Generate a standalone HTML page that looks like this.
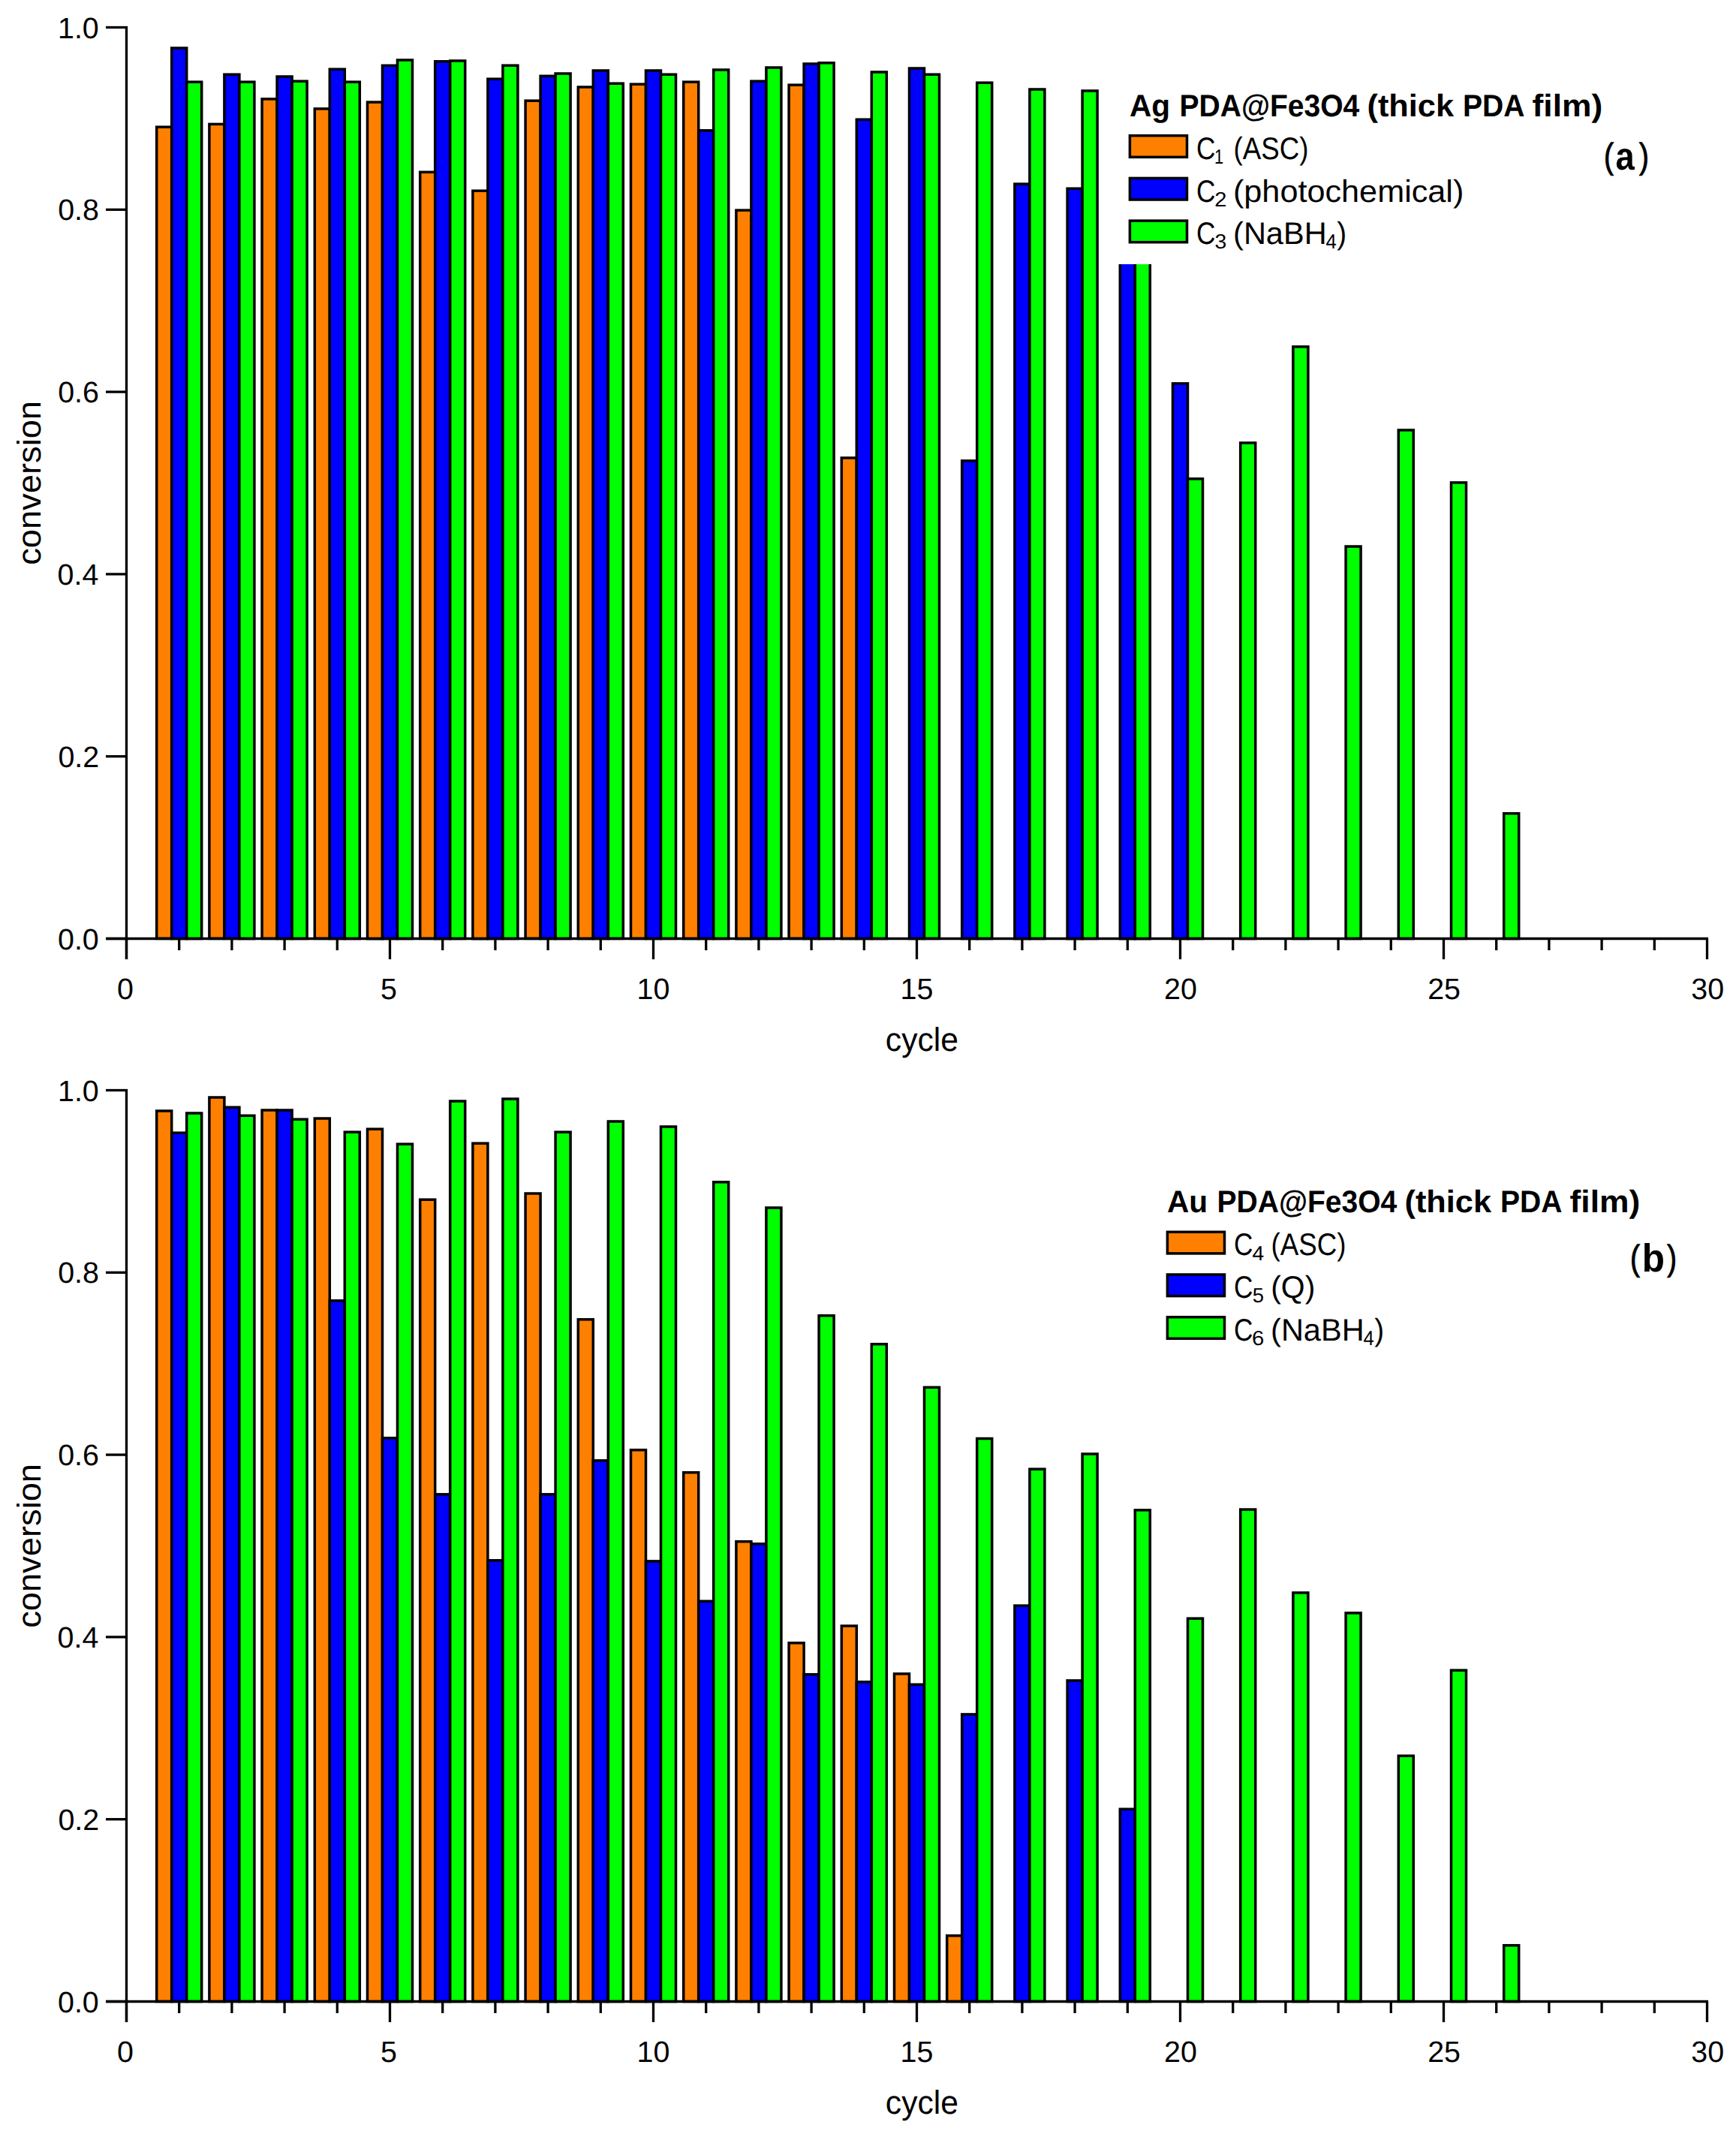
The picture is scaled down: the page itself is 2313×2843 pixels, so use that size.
<!DOCTYPE html>
<html><head><meta charset="utf-8"><title>conversion vs cycle</title>
<style>
html,body{margin:0;padding:0;background:#fff;}
svg{display:block}
text{font-family:"Liberation Sans",sans-serif;fill:#000;font-kerning:none;text-rendering:geometricPrecision}
.bars rect{stroke:#000;stroke-width:3.5}
.ax line{stroke:#000;stroke-width:3.3;stroke-linecap:butt}
</style></head><body>
<svg width="2313" height="2843" viewBox="0 0 2313 2843">
<rect width="2313" height="2843" fill="#fff"/>
<g class="bars">
<rect x="208.7" y="169.2" width="20" height="1081.2" fill="#ff8000"/>
<rect x="228.7" y="64.0" width="20" height="1186.5" fill="#0000ff"/>
<rect x="248.7" y="109.2" width="20" height="1141.3" fill="#00ff00"/>
<rect x="278.9" y="165.4" width="20" height="1085.0" fill="#ff8000"/>
<rect x="298.9" y="99.2" width="20" height="1151.2" fill="#0000ff"/>
<rect x="318.9" y="109.2" width="20" height="1141.3" fill="#00ff00"/>
<rect x="349.1" y="131.9" width="20" height="1118.5" fill="#ff8000"/>
<rect x="369.1" y="102.0" width="20" height="1148.5" fill="#0000ff"/>
<rect x="389.1" y="108.2" width="20" height="1142.3" fill="#00ff00"/>
<rect x="419.3" y="144.9" width="20" height="1105.5" fill="#ff8000"/>
<rect x="439.3" y="92.2" width="20" height="1158.3" fill="#0000ff"/>
<rect x="459.3" y="109.2" width="20" height="1141.3" fill="#00ff00"/>
<rect x="489.5" y="136.1" width="20" height="1114.5" fill="#ff8000"/>
<rect x="509.5" y="87.3" width="20" height="1163.2" fill="#0000ff"/>
<rect x="529.5" y="80.0" width="20" height="1170.5" fill="#00ff00"/>
<rect x="559.7" y="229.3" width="20" height="1021.1" fill="#ff8000"/>
<rect x="579.7" y="81.8" width="20" height="1168.8" fill="#0000ff"/>
<rect x="599.7" y="81.0" width="20" height="1169.5" fill="#00ff00"/>
<rect x="629.9" y="254.2" width="20" height="996.4" fill="#ff8000"/>
<rect x="649.9" y="105.2" width="20" height="1145.3" fill="#0000ff"/>
<rect x="669.9" y="87.2" width="20" height="1163.3" fill="#00ff00"/>
<rect x="700.1" y="134.2" width="20" height="1116.2" fill="#ff8000"/>
<rect x="720.1" y="101.3" width="20" height="1149.2" fill="#0000ff"/>
<rect x="740.1" y="98.0" width="20" height="1152.5" fill="#00ff00"/>
<rect x="770.3" y="116.0" width="20" height="1134.5" fill="#ff8000"/>
<rect x="790.3" y="94.0" width="20" height="1156.5" fill="#0000ff"/>
<rect x="810.3" y="111.2" width="20" height="1139.2" fill="#00ff00"/>
<rect x="840.5" y="112.2" width="20" height="1138.2" fill="#ff8000"/>
<rect x="860.5" y="94.0" width="20" height="1156.5" fill="#0000ff"/>
<rect x="880.5" y="99.2" width="20" height="1151.2" fill="#00ff00"/>
<rect x="910.7" y="109.2" width="20" height="1141.3" fill="#ff8000"/>
<rect x="930.7" y="173.8" width="20" height="1076.7" fill="#0000ff"/>
<rect x="950.7" y="93.0" width="20" height="1157.5" fill="#00ff00"/>
<rect x="980.9" y="280.1" width="20" height="970.5" fill="#ff8000"/>
<rect x="1000.9" y="108.2" width="20" height="1142.3" fill="#0000ff"/>
<rect x="1020.9" y="90.0" width="20" height="1160.5" fill="#00ff00"/>
<rect x="1051.1" y="113.2" width="20" height="1137.2" fill="#ff8000"/>
<rect x="1071.1" y="85.0" width="20" height="1165.5" fill="#0000ff"/>
<rect x="1091.1" y="83.8" width="20" height="1166.7" fill="#00ff00"/>
<rect x="1121.3" y="610.0" width="20" height="640.5" fill="#ff8000"/>
<rect x="1141.3" y="159.2" width="20" height="1091.3" fill="#0000ff"/>
<rect x="1161.3" y="96.0" width="20" height="1154.5" fill="#00ff00"/>
<rect x="1211.5" y="91.0" width="20" height="1159.5" fill="#0000ff"/>
<rect x="1231.5" y="99.2" width="20" height="1151.2" fill="#00ff00"/>
<rect x="1281.7" y="613.9" width="20" height="636.6" fill="#0000ff"/>
<rect x="1301.7" y="110.2" width="20" height="1140.3" fill="#00ff00"/>
<rect x="1351.9" y="245.1" width="20" height="1005.5" fill="#0000ff"/>
<rect x="1371.9" y="119.0" width="20" height="1131.5" fill="#00ff00"/>
<rect x="1422.1" y="251.2" width="20" height="999.4" fill="#0000ff"/>
<rect x="1442.1" y="121.0" width="20" height="1129.5" fill="#00ff00"/>
<rect x="1492.3" y="331.8" width="20" height="918.8" fill="#0000ff"/>
<rect x="1512.3" y="331.8" width="20" height="918.8" fill="#00ff00"/>
<rect x="1562.5" y="510.9" width="20" height="739.6" fill="#0000ff"/>
<rect x="1582.5" y="637.9" width="20" height="612.6" fill="#00ff00"/>
<rect x="1652.7" y="590.0" width="20" height="660.5" fill="#00ff00"/>
<rect x="1722.9" y="461.9" width="20" height="788.6" fill="#00ff00"/>
<rect x="1793.1" y="728.0" width="20" height="522.5" fill="#00ff00"/>
<rect x="1863.3" y="573.0" width="20" height="677.5" fill="#00ff00"/>
<rect x="1933.5" y="642.9" width="20" height="607.6" fill="#00ff00"/>
<rect x="2003.7" y="1083.7" width="20" height="166.8" fill="#00ff00"/>
</g>
<rect x="1486" y="112" width="670" height="240" fill="#fff"/>
<text><tspan x="1505.02" y="154.80" font-size="41.6" font-weight="bold" textLength="54.18" lengthAdjust="spacingAndGlyphs">Ag</tspan> <tspan x="1571.50" y="154.80" font-size="41.6" font-weight="bold" textLength="239.77" lengthAdjust="spacingAndGlyphs">PDA@Fe3O4</tspan> <tspan x="1821.54" y="154.80" font-size="41.6" font-weight="bold" textLength="115.48" lengthAdjust="spacingAndGlyphs">(thick</tspan> <tspan x="1949.00" y="154.80" font-size="41.6" font-weight="bold" textLength="82.47" lengthAdjust="spacingAndGlyphs">PDA</tspan> <tspan x="2041.56" y="154.80" font-size="41.6" font-weight="bold" textLength="93.70" lengthAdjust="spacingAndGlyphs">film)</tspan></text>
<rect x="1505.4" y="180.7" width="76.1" height="28.6" fill="#ff8000" stroke="#000" stroke-width="3.5"/>
<text><tspan x="1594.04" y="211.80" font-size="41.6" font-weight="normal" textLength="25.43" lengthAdjust="spacingAndGlyphs">C</tspan><tspan x="1618.01" y="218.00" font-size="27.4" font-weight="normal" textLength="12.19" lengthAdjust="spacingAndGlyphs">1</tspan> <tspan x="1643.47" y="211.80" font-size="41.6" font-weight="normal" textLength="100.01" lengthAdjust="spacingAndGlyphs">(ASC)</tspan></text>
<rect x="1505.4" y="237.4" width="76.1" height="28.6" fill="#0000ff" stroke="#000" stroke-width="3.5"/>
<text><tspan x="1594.04" y="268.50" font-size="41.6" font-weight="normal" textLength="25.43" lengthAdjust="spacingAndGlyphs">C</tspan><tspan x="1618.34" y="274.70" font-size="27.4" font-weight="normal" textLength="16.20" lengthAdjust="spacingAndGlyphs">2</tspan> <tspan x="1642.96" y="268.50" font-size="41.6" font-weight="normal" textLength="307.41" lengthAdjust="spacingAndGlyphs">(photochemical)</tspan></text>
<rect x="1505.4" y="294.1" width="76.1" height="28.6" fill="#00ff00" stroke="#000" stroke-width="3.5"/>
<text><tspan x="1594.04" y="325.20" font-size="41.6" font-weight="normal" textLength="25.43" lengthAdjust="spacingAndGlyphs">C</tspan><tspan x="1618.47" y="331.40" font-size="27.4" font-weight="normal" textLength="15.74" lengthAdjust="spacingAndGlyphs">3</tspan> <tspan x="1643.07" y="325.20" font-size="41.6" font-weight="normal" textLength="124.57" lengthAdjust="spacingAndGlyphs">(NaBH</tspan><tspan x="1766.50" y="331.40" font-size="27.4" font-weight="normal" textLength="14.25" lengthAdjust="spacingAndGlyphs">4</tspan><tspan x="1781.34" y="325.20" font-size="41.6" font-weight="normal" textLength="12.90" lengthAdjust="spacingAndGlyphs">)</tspan></text>
<text><tspan x="2136.95" y="224.10" font-size="47.2" font-weight="normal" stroke="#000" stroke-width="1.0" textLength="12.90" lengthAdjust="spacingAndGlyphs">(</tspan><tspan x="2152.54" y="225.90" font-size="52.2" font-weight="bold" textLength="25.24" lengthAdjust="spacingAndGlyphs">a</tspan><tspan x="2184.04" y="224.10" font-size="47.2" font-weight="normal" stroke="#000" stroke-width="1.0" textLength="12.90" lengthAdjust="spacingAndGlyphs">)</tspan></text>
<g class="ax">
<line x1="141" x2="170" y1="1250.5" y2="1250.5"/>
<line x1="141" x2="170" y1="1007.7" y2="1007.7"/>
<line x1="141" x2="170" y1="764.9" y2="764.9"/>
<line x1="141" x2="170" y1="522.1" y2="522.1"/>
<line x1="141" x2="170" y1="279.3" y2="279.3"/>
<line x1="141" x2="170" y1="36.5" y2="36.5"/>
<line x1="168.5" x2="168.5" y1="1250.5" y2="1278.0"/>
<line x1="238.7" x2="238.7" y1="1250.5" y2="1266.0"/>
<line x1="308.9" x2="308.9" y1="1250.5" y2="1266.0"/>
<line x1="379.1" x2="379.1" y1="1250.5" y2="1266.0"/>
<line x1="449.3" x2="449.3" y1="1250.5" y2="1266.0"/>
<line x1="519.5" x2="519.5" y1="1250.5" y2="1278.0"/>
<line x1="589.7" x2="589.7" y1="1250.5" y2="1266.0"/>
<line x1="659.9" x2="659.9" y1="1250.5" y2="1266.0"/>
<line x1="730.1" x2="730.1" y1="1250.5" y2="1266.0"/>
<line x1="800.3" x2="800.3" y1="1250.5" y2="1266.0"/>
<line x1="870.5" x2="870.5" y1="1250.5" y2="1278.0"/>
<line x1="940.7" x2="940.7" y1="1250.5" y2="1266.0"/>
<line x1="1010.9" x2="1010.9" y1="1250.5" y2="1266.0"/>
<line x1="1081.1" x2="1081.1" y1="1250.5" y2="1266.0"/>
<line x1="1151.3" x2="1151.3" y1="1250.5" y2="1266.0"/>
<line x1="1221.5" x2="1221.5" y1="1250.5" y2="1278.0"/>
<line x1="1291.7" x2="1291.7" y1="1250.5" y2="1266.0"/>
<line x1="1361.9" x2="1361.9" y1="1250.5" y2="1266.0"/>
<line x1="1432.1" x2="1432.1" y1="1250.5" y2="1266.0"/>
<line x1="1502.3" x2="1502.3" y1="1250.5" y2="1266.0"/>
<line x1="1572.5" x2="1572.5" y1="1250.5" y2="1278.0"/>
<line x1="1642.7" x2="1642.7" y1="1250.5" y2="1266.0"/>
<line x1="1712.9" x2="1712.9" y1="1250.5" y2="1266.0"/>
<line x1="1783.1" x2="1783.1" y1="1250.5" y2="1266.0"/>
<line x1="1853.3" x2="1853.3" y1="1250.5" y2="1266.0"/>
<line x1="1923.5" x2="1923.5" y1="1250.5" y2="1278.0"/>
<line x1="1993.7" x2="1993.7" y1="1250.5" y2="1266.0"/>
<line x1="2063.9" x2="2063.9" y1="1250.5" y2="1266.0"/>
<line x1="2134.1" x2="2134.1" y1="1250.5" y2="1266.0"/>
<line x1="2204.3" x2="2204.3" y1="1250.5" y2="1266.0"/>
<line x1="2274.5" x2="2274.5" y1="1250.5" y2="1278.0"/>
<line x1="168.5" x2="168.5" y1="35.0" y2="1278.0"/>
<line x1="141" x2="2276.0" y1="1250.5" y2="1250.5"/>
</g>
<text font-size="39.4" transform="translate(77.01,1264.50) scale(1.0000,1)">0.0</text>
<text font-size="39.4" transform="translate(77.40,1021.70) scale(1.0000,1)">0.2</text>
<text font-size="39.4" transform="translate(76.62,778.90) scale(1.0000,1)">0.4</text>
<text font-size="39.4" transform="translate(77.14,536.10) scale(1.0000,1)">0.6</text>
<text font-size="39.4" transform="translate(77.14,293.30) scale(1.0000,1)">0.8</text>
<text font-size="39.4" transform="translate(77.01,50.50) scale(1.0000,1)">1.0</text>
<text font-size="39.4" transform="translate(156.03,1331.00) scale(1.0000,1)">0</text>
<text font-size="39.4" transform="translate(507.10,1331.00) scale(1.0000,1)">5</text>
<text font-size="39.4" transform="translate(848.55,1331.00) scale(1.0000,1)">10</text>
<text font-size="39.4" transform="translate(1199.61,1331.00) scale(1.0000,1)">15</text>
<text font-size="39.4" transform="translate(1551.07,1331.00) scale(1.0000,1)">20</text>
<text font-size="39.4" transform="translate(1902.14,1331.00) scale(1.0000,1)">25</text>
<text font-size="39.4" transform="translate(2253.27,1331.00) scale(1.0000,1)">30</text>
<text font-size="44.1" transform="translate(54.10,752.86) rotate(-90) scale(1.0266,1)">conversion</text>
<text font-size="44.1" transform="translate(1179.85,1399.80) scale(0.9666,1)">cycle</text>
<g class="bars">
<rect x="208.7" y="1480.0" width="20" height="1186.5" fill="#ff8000"/>
<rect x="228.7" y="1509.2" width="20" height="1157.3" fill="#0000ff"/>
<rect x="248.7" y="1483.0" width="20" height="1183.5" fill="#00ff00"/>
<rect x="278.9" y="1462.0" width="20" height="1204.5" fill="#ff8000"/>
<rect x="298.9" y="1475.2" width="20" height="1191.2" fill="#0000ff"/>
<rect x="318.9" y="1486.3" width="20" height="1180.2" fill="#00ff00"/>
<rect x="349.1" y="1479.0" width="20" height="1187.5" fill="#ff8000"/>
<rect x="369.1" y="1479.0" width="20" height="1187.5" fill="#0000ff"/>
<rect x="389.1" y="1491.2" width="20" height="1175.3" fill="#00ff00"/>
<rect x="419.3" y="1490.0" width="20" height="1176.5" fill="#ff8000"/>
<rect x="439.3" y="1732.8" width="20" height="933.7" fill="#0000ff"/>
<rect x="459.3" y="1508.2" width="20" height="1158.3" fill="#00ff00"/>
<rect x="489.5" y="1504.2" width="20" height="1162.3" fill="#ff8000"/>
<rect x="509.5" y="1915.8" width="20" height="750.8" fill="#0000ff"/>
<rect x="529.5" y="1524.2" width="20" height="1142.3" fill="#00ff00"/>
<rect x="559.7" y="1598.2" width="20" height="1068.3" fill="#ff8000"/>
<rect x="579.7" y="1990.8" width="20" height="675.8" fill="#0000ff"/>
<rect x="599.7" y="1467.0" width="20" height="1199.5" fill="#00ff00"/>
<rect x="629.9" y="1523.2" width="20" height="1143.3" fill="#ff8000"/>
<rect x="649.9" y="2078.8" width="20" height="587.7" fill="#0000ff"/>
<rect x="669.9" y="1464.0" width="20" height="1202.5" fill="#00ff00"/>
<rect x="700.1" y="1590.0" width="20" height="1076.5" fill="#ff8000"/>
<rect x="720.1" y="1990.8" width="20" height="675.8" fill="#0000ff"/>
<rect x="740.1" y="1508.2" width="20" height="1158.3" fill="#00ff00"/>
<rect x="770.3" y="1757.8" width="20" height="908.8" fill="#ff8000"/>
<rect x="790.3" y="1945.8" width="20" height="720.8" fill="#0000ff"/>
<rect x="810.3" y="1494.0" width="20" height="1172.5" fill="#00ff00"/>
<rect x="840.5" y="1931.7" width="20" height="734.8" fill="#ff8000"/>
<rect x="860.5" y="2079.9" width="20" height="586.6" fill="#0000ff"/>
<rect x="880.5" y="1501.0" width="20" height="1165.5" fill="#00ff00"/>
<rect x="910.7" y="1961.7" width="20" height="704.8" fill="#ff8000"/>
<rect x="930.7" y="2133.2" width="20" height="533.3" fill="#0000ff"/>
<rect x="950.7" y="1574.8" width="20" height="1091.7" fill="#00ff00"/>
<rect x="980.9" y="2053.7" width="20" height="612.8" fill="#ff8000"/>
<rect x="1000.9" y="2056.8" width="20" height="609.7" fill="#0000ff"/>
<rect x="1020.9" y="1609.0" width="20" height="1057.5" fill="#00ff00"/>
<rect x="1051.1" y="2188.8" width="20" height="477.7" fill="#ff8000"/>
<rect x="1071.1" y="2230.7" width="20" height="435.8" fill="#0000ff"/>
<rect x="1091.1" y="1752.7" width="20" height="913.8" fill="#00ff00"/>
<rect x="1121.3" y="2166.1" width="20" height="500.4" fill="#ff8000"/>
<rect x="1141.3" y="2240.7" width="20" height="425.8" fill="#0000ff"/>
<rect x="1161.3" y="1790.7" width="20" height="875.8" fill="#00ff00"/>
<rect x="1191.5" y="2229.9" width="20" height="436.6" fill="#ff8000"/>
<rect x="1211.5" y="2244.2" width="20" height="422.3" fill="#0000ff"/>
<rect x="1231.5" y="1848.3" width="20" height="818.2" fill="#00ff00"/>
<rect x="1261.7" y="2578.8" width="20" height="87.7" fill="#ff8000"/>
<rect x="1281.7" y="2283.9" width="20" height="382.6" fill="#0000ff"/>
<rect x="1301.7" y="1916.5" width="20" height="750.0" fill="#00ff00"/>
<rect x="1351.9" y="2139.1" width="20" height="527.4" fill="#0000ff"/>
<rect x="1371.9" y="1957.2" width="20" height="709.2" fill="#00ff00"/>
<rect x="1422.1" y="2238.9" width="20" height="427.6" fill="#0000ff"/>
<rect x="1442.1" y="1937.0" width="20" height="729.5" fill="#00ff00"/>
<rect x="1492.3" y="2410.2" width="20" height="256.2" fill="#0000ff"/>
<rect x="1512.3" y="2011.8" width="20" height="654.7" fill="#00ff00"/>
<rect x="1582.5" y="2156.2" width="20" height="510.3" fill="#00ff00"/>
<rect x="1652.7" y="2011.0" width="20" height="655.5" fill="#00ff00"/>
<rect x="1722.9" y="2121.9" width="20" height="544.6" fill="#00ff00"/>
<rect x="1793.1" y="2148.9" width="20" height="517.6" fill="#00ff00"/>
<rect x="1863.3" y="2339.2" width="20" height="327.2" fill="#00ff00"/>
<rect x="1933.5" y="2225.2" width="20" height="441.3" fill="#00ff00"/>
<rect x="2003.7" y="2591.7" width="20" height="74.8" fill="#00ff00"/>
</g>
<text><tspan x="1555.02" y="1615.40" font-size="41.6" font-weight="bold" textLength="54.18" lengthAdjust="spacingAndGlyphs">Au</tspan> <tspan x="1621.50" y="1615.40" font-size="41.6" font-weight="bold" textLength="239.77" lengthAdjust="spacingAndGlyphs">PDA@Fe3O4</tspan> <tspan x="1871.54" y="1615.40" font-size="41.6" font-weight="bold" textLength="115.48" lengthAdjust="spacingAndGlyphs">(thick</tspan> <tspan x="1999.00" y="1615.40" font-size="41.6" font-weight="bold" textLength="82.47" lengthAdjust="spacingAndGlyphs">PDA</tspan> <tspan x="2091.56" y="1615.40" font-size="41.6" font-weight="bold" textLength="93.70" lengthAdjust="spacingAndGlyphs">film)</tspan></text>
<rect x="1555.4" y="1641.3" width="76.1" height="28.6" fill="#ff8000" stroke="#000" stroke-width="3.5"/>
<text><tspan x="1644.04" y="1672.40" font-size="41.6" font-weight="normal" textLength="25.43" lengthAdjust="spacingAndGlyphs">C</tspan><tspan x="1668.54" y="1678.60" font-size="27.4" font-weight="normal" textLength="15.69" lengthAdjust="spacingAndGlyphs">4</tspan> <tspan x="1693.47" y="1672.40" font-size="41.6" font-weight="normal" textLength="100.01" lengthAdjust="spacingAndGlyphs">(ASC)</tspan></text>
<rect x="1555.4" y="1698.0" width="76.1" height="28.6" fill="#0000ff" stroke="#000" stroke-width="3.5"/>
<text><tspan x="1644.04" y="1729.10" font-size="41.6" font-weight="normal" textLength="25.43" lengthAdjust="spacingAndGlyphs">C</tspan><tspan x="1668.70" y="1735.30" font-size="27.4" font-weight="normal" textLength="15.27" lengthAdjust="spacingAndGlyphs">5</tspan> <tspan x="1693.21" y="1729.10" font-size="41.6" font-weight="normal" textLength="59.11" lengthAdjust="spacingAndGlyphs">(Q)</tspan></text>
<rect x="1555.4" y="1754.7" width="76.1" height="28.6" fill="#00ff00" stroke="#000" stroke-width="3.5"/>
<text><tspan x="1644.04" y="1785.80" font-size="41.6" font-weight="normal" textLength="25.43" lengthAdjust="spacingAndGlyphs">C</tspan><tspan x="1668.13" y="1792.00" font-size="27.4" font-weight="normal" textLength="16.32" lengthAdjust="spacingAndGlyphs">6</tspan> <tspan x="1693.07" y="1785.80" font-size="41.6" font-weight="normal" textLength="124.57" lengthAdjust="spacingAndGlyphs">(NaBH</tspan><tspan x="1816.50" y="1792.00" font-size="27.4" font-weight="normal" textLength="14.25" lengthAdjust="spacingAndGlyphs">4</tspan><tspan x="1831.34" y="1785.80" font-size="41.6" font-weight="normal" textLength="12.90" lengthAdjust="spacingAndGlyphs">)</tspan></text>
<text><tspan x="2171.95" y="1692.20" font-size="47.2" font-weight="normal" stroke="#000" stroke-width="1.0" textLength="12.90" lengthAdjust="spacingAndGlyphs">(</tspan><tspan x="2187.70" y="1694.00" font-size="52.4" font-weight="bold" textLength="30.22" lengthAdjust="spacingAndGlyphs">b</tspan><tspan x="2221.24" y="1692.20" font-size="47.2" font-weight="normal" stroke="#000" stroke-width="1.0" textLength="12.77" lengthAdjust="spacingAndGlyphs">)</tspan></text>
<g class="ax">
<line x1="141" x2="170" y1="2666.5" y2="2666.5"/>
<line x1="141" x2="170" y1="2423.7" y2="2423.7"/>
<line x1="141" x2="170" y1="2180.9" y2="2180.9"/>
<line x1="141" x2="170" y1="1938.1" y2="1938.1"/>
<line x1="141" x2="170" y1="1695.3" y2="1695.3"/>
<line x1="141" x2="170" y1="1452.5" y2="1452.5"/>
<line x1="168.5" x2="168.5" y1="2666.5" y2="2694.0"/>
<line x1="238.7" x2="238.7" y1="2666.5" y2="2682.0"/>
<line x1="308.9" x2="308.9" y1="2666.5" y2="2682.0"/>
<line x1="379.1" x2="379.1" y1="2666.5" y2="2682.0"/>
<line x1="449.3" x2="449.3" y1="2666.5" y2="2682.0"/>
<line x1="519.5" x2="519.5" y1="2666.5" y2="2694.0"/>
<line x1="589.7" x2="589.7" y1="2666.5" y2="2682.0"/>
<line x1="659.9" x2="659.9" y1="2666.5" y2="2682.0"/>
<line x1="730.1" x2="730.1" y1="2666.5" y2="2682.0"/>
<line x1="800.3" x2="800.3" y1="2666.5" y2="2682.0"/>
<line x1="870.5" x2="870.5" y1="2666.5" y2="2694.0"/>
<line x1="940.7" x2="940.7" y1="2666.5" y2="2682.0"/>
<line x1="1010.9" x2="1010.9" y1="2666.5" y2="2682.0"/>
<line x1="1081.1" x2="1081.1" y1="2666.5" y2="2682.0"/>
<line x1="1151.3" x2="1151.3" y1="2666.5" y2="2682.0"/>
<line x1="1221.5" x2="1221.5" y1="2666.5" y2="2694.0"/>
<line x1="1291.7" x2="1291.7" y1="2666.5" y2="2682.0"/>
<line x1="1361.9" x2="1361.9" y1="2666.5" y2="2682.0"/>
<line x1="1432.1" x2="1432.1" y1="2666.5" y2="2682.0"/>
<line x1="1502.3" x2="1502.3" y1="2666.5" y2="2682.0"/>
<line x1="1572.5" x2="1572.5" y1="2666.5" y2="2694.0"/>
<line x1="1642.7" x2="1642.7" y1="2666.5" y2="2682.0"/>
<line x1="1712.9" x2="1712.9" y1="2666.5" y2="2682.0"/>
<line x1="1783.1" x2="1783.1" y1="2666.5" y2="2682.0"/>
<line x1="1853.3" x2="1853.3" y1="2666.5" y2="2682.0"/>
<line x1="1923.5" x2="1923.5" y1="2666.5" y2="2694.0"/>
<line x1="1993.7" x2="1993.7" y1="2666.5" y2="2682.0"/>
<line x1="2063.9" x2="2063.9" y1="2666.5" y2="2682.0"/>
<line x1="2134.1" x2="2134.1" y1="2666.5" y2="2682.0"/>
<line x1="2204.3" x2="2204.3" y1="2666.5" y2="2682.0"/>
<line x1="2274.5" x2="2274.5" y1="2666.5" y2="2694.0"/>
<line x1="168.5" x2="168.5" y1="1451.0" y2="2694.0"/>
<line x1="141" x2="2276.0" y1="2666.5" y2="2666.5"/>
</g>
<text font-size="39.4" transform="translate(77.01,2680.50) scale(1.0000,1)">0.0</text>
<text font-size="39.4" transform="translate(77.40,2437.70) scale(1.0000,1)">0.2</text>
<text font-size="39.4" transform="translate(76.62,2194.90) scale(1.0000,1)">0.4</text>
<text font-size="39.4" transform="translate(77.14,1952.10) scale(1.0000,1)">0.6</text>
<text font-size="39.4" transform="translate(77.14,1709.30) scale(1.0000,1)">0.8</text>
<text font-size="39.4" transform="translate(77.01,1466.50) scale(1.0000,1)">1.0</text>
<text font-size="39.4" transform="translate(156.03,2747.00) scale(1.0000,1)">0</text>
<text font-size="39.4" transform="translate(507.10,2747.00) scale(1.0000,1)">5</text>
<text font-size="39.4" transform="translate(848.55,2747.00) scale(1.0000,1)">10</text>
<text font-size="39.4" transform="translate(1199.61,2747.00) scale(1.0000,1)">15</text>
<text font-size="39.4" transform="translate(1551.07,2747.00) scale(1.0000,1)">20</text>
<text font-size="39.4" transform="translate(1902.14,2747.00) scale(1.0000,1)">25</text>
<text font-size="39.4" transform="translate(2253.27,2747.00) scale(1.0000,1)">30</text>
<text font-size="44.1" transform="translate(54.10,2168.86) rotate(-90) scale(1.0266,1)">conversion</text>
<text font-size="44.1" transform="translate(1179.85,2815.80) scale(0.9666,1)">cycle</text>
</svg>
</body></html>
